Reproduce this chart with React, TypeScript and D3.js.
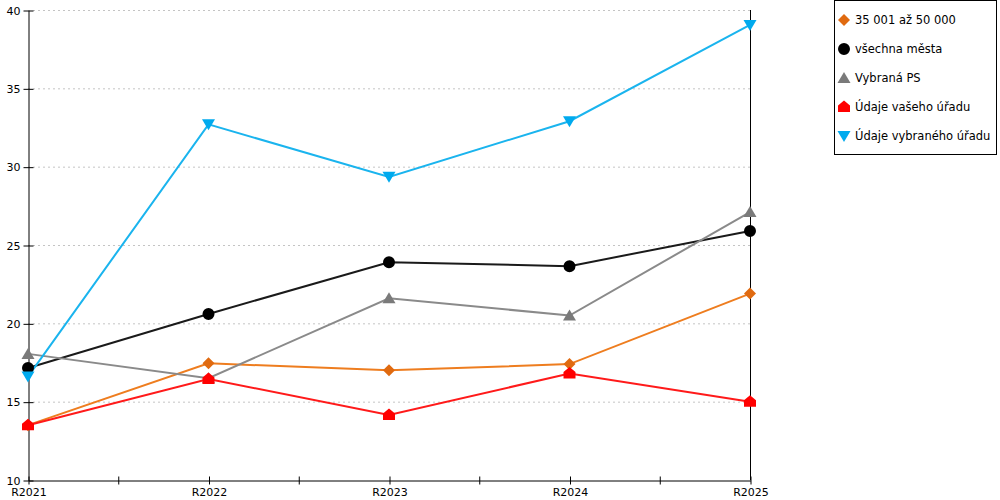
import React, { useEffect, useRef } from "react";
import * as d3 from "d3";

const categories = ["R2021", "R2022", "R2023", "R2024", "R2025"];
const yTicks = [10, 15, 20, 25, 30, 35, 40];

const seriesNames = ["35 001 až 50 000", "všechna města", "Vybraná PS", "Údaje vašeho úřadu", "Údaje vybraného úřadu"];
const valuesSize = [13.5, 17.45, 17.0, 17.4, 21.9];
const valuesAll = [17.15, 20.6, 23.9, 23.65, 25.9];
const valuesPS = [18.05, 16.5, 21.6, 20.5, 27.1];
const valuesYours = [13.5, 16.45, 14.15, 16.8, 15.0];
const valuesSelected = [16.6, 32.7, 29.35, 32.9, 39.05];

const lineColors = ["#ee7d1f", "#1a1a1a", "#8a8a8a", "#ff1a1a", "#1ab4ee"];
const markerColors = ["#e06a10", "#000000", "#7a7a7a", "#ff0000", "#00aaee"];
const markerKinds = ["diamond", "circle", "triangle", "house", "triangleDown"];

const FONT = "DejaVu Sans, Verdana, sans-serif";

function markerPath(kind: string): string {
  switch (kind) {
    case "diamond":
      return "M0,-6L6,0L0,6L-6,0Z";
    case "circle":
      return d3.symbol().type(d3.symbolCircle).size(113)() as string;
    case "triangle":
      return "M0,-6L6.5,5L-6.5,5Z";
    case "triangleDown":
      return "M-6.5,-5L6.5,-5L0,6Z";
    case "house":
      return "M0,-6.5L6,-1.5L6,5L-6,5L-6,-1.5Z";
  }
  return "";
}

export default function App() {
  const ref = useRef<SVGSVGElement | null>(null);

  useEffect(() => {
    const svg = d3.select(ref.current);
    svg.selectAll("*").remove();

    const left = 28, right = 750, top = 10, bottom = 480;
    const x = d3.scalePoint<string>().domain(categories).range([left, right]);
    const y = d3.scaleLinear().domain([10, 40]).range([bottom, top]);

    const series = [valuesSize, valuesAll, valuesPS, valuesYours, valuesSelected];

    // grid
    svg.append("g")
      .selectAll("line")
      .data(yTicks.filter((t) => t > 10))
      .join("line")
      .attr("x1", left)
      .attr("x2", right)
      .attr("y1", (d) => y(d) + 0.5)
      .attr("y2", (d) => y(d) + 0.5)
      .attr("stroke", "#c4c4c4")
      .attr("stroke-dasharray", "2,3");

    // right border line
    svg.append("line")
      .attr("x1", right + 0.5).attr("x2", right + 0.5)
      .attr("y1", top).attr("y2", bottom)
      .attr("stroke", "#000");

    // y axis
    const yAxis = svg.append("g").attr("transform", `translate(${left + 0.5},0.5)`)
      .call(d3.axisLeft(y).tickValues(yTicks).tickSize(5).tickSizeOuter(0).tickPadding(3));
    yAxis.selectAll(".tick line").attr("x2", -5).attr("x1", 5);
    yAxis.select(".domain").attr("stroke", "#000");
    yAxis.selectAll("text").attr("font-family", FONT).attr("font-size", 11).attr("fill", "#000");

    // x axis
    const step = x.step();
    const midTicks = categories.slice(0, -1).map((c) => (x(c) as number) + step / 2);
    const xAxis = svg.append("g").attr("transform", `translate(0.5,${bottom + 0.5})`)
      .call(d3.axisBottom(x).tickSize(4).tickSizeOuter(0).tickPadding(4));
    xAxis.selectAll(".tick line").attr("y1", -4).attr("y2", 4);
    xAxis.select(".domain").attr("stroke", "#000");
    xAxis.selectAll("text").attr("font-family", FONT).attr("font-size", 11).attr("fill", "#000");
    xAxis.append("g")
      .selectAll("line")
      .data(midTicks)
      .join("line")
      .attr("x1", (d) => d).attr("x2", (d) => d)
      .attr("y1", -4).attr("y2", 4)
      .attr("stroke", "#000");

    const line = d3.line<number>()
      .x((_, i) => x(categories[i]) as number)
      .y((d) => y(d));

    series.forEach((vals, si) => {
      svg.append("path")
        .datum(vals)
        .attr("d", line)
        .attr("fill", "none")
        .attr("stroke", lineColors[si])
        .attr("stroke-width", 2);
    });

    series.forEach((vals, si) => {
      svg.append("g")
        .selectAll("path")
        .data(vals)
        .join("path")
        .attr("transform", (d, i) => `translate(${x(categories[i])},${y(d)})`)
        .attr("d", markerPath(markerKinds[si]))
        .attr("fill", markerColors[si]);
    });

    // legend
    const lg = svg.append("g");
    lg.append("rect")
      .attr("x", 834.5).attr("y", 0.5)
      .attr("width", 162).attr("height", 154)
      .attr("fill", "#fff").attr("stroke", "#000");
    const items = lg.selectAll("g.item")
      .data(seriesNames)
      .join("g")
      .attr("class", "item")
      .attr("transform", (_, i) => `translate(844,${20 + i * 29})`);
    items.append("path")
      .attr("d", (_, i) => markerPath(markerKinds[i]))
      .attr("fill", (_, i) => markerColors[i]);
    items.append("text")
      .attr("x", 11)
      .attr("dy", "0.35em")
      .attr("font-family", FONT)
      .attr("font-size", 11.5)
      .attr("fill", "#000")
      .text((d) => d);
  }, []);

  return (
    <svg ref={ref} width={1000} height={500} style={{ position: "absolute", left: 0, top: 0 }} />
  );
}
